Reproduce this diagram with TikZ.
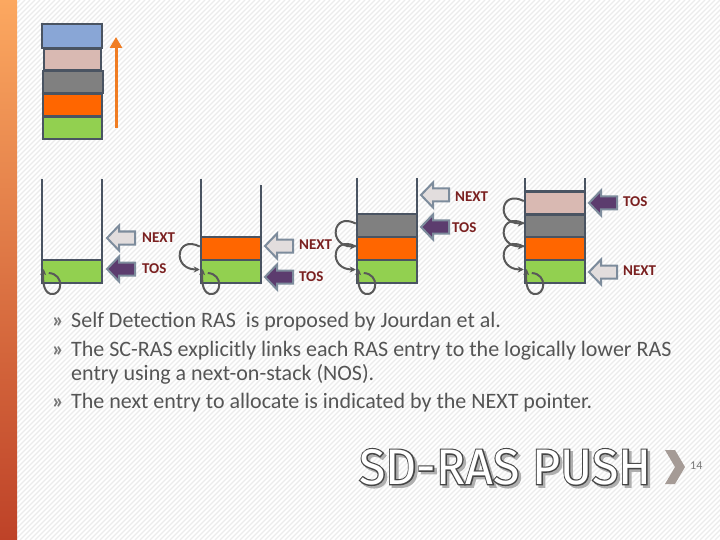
\documentclass[tikz,border=0pt]{standalone}
\usepackage{fontspec}
\setmainfont{Carlito}
\newfontfamily\titlefont{Fira Sans}
\newfontfamily\titlefontbold[FakeBold=5]{Fira Sans}
\usetikzlibrary{arrows.meta,calc}
\definecolor{barTop}{RGB}{252,168,96}
\definecolor{barMid}{RGB}{242,122,32}
\definecolor{barBot}{RGB}{190,66,40}
\definecolor{wallc}{RGB}{74,84,98}
\definecolor{cblue}{RGB}{137,166,214}
\definecolor{cpink}{RGB}{217,185,178}
\definecolor{cgray}{RGB}{128,128,128}
\definecolor{corange}{RGB}{255,102,0}
\definecolor{cgreen}{RGB}{146,208,80}
\definecolor{loopc}{RGB}{89,89,89}
\definecolor{nextfill}{RGB}{226,221,221}
\definecolor{arrowedge}{RGB}{125,140,156}
\definecolor{tosfill}{RGB}{92,60,110}
\definecolor{labelc}{RGB}{122,32,32}
\definecolor{textc}{RGB}{85,85,85}
\definecolor{bulletc}{RGB}{120,120,120}
\definecolor{titleout}{RGB}{70,70,70}
\definecolor{titleshadow}{RGB}{175,175,175}
\definecolor{chevc}{RGB}{165,155,150}
\definecolor{uparrow}{RGB}{240,125,35}
\definecolor{stripec}{RGB}{236,236,236}
\newcommand\ttltext{\resizebox{292pt}{35pt}{\titlefont SD-RAS PUSH}}
\newcommand\ttltextbold{\resizebox{292pt}{35pt}{\titlefontbold SD-RAS PUSH}}
\tikzset{
  box/.style={draw=wallc, line width=2.5pt, minimum width=60pt, minimum height=23pt, inner sep=0pt},
  wall/.style={draw=wallc, line width=2.5pt},
  nosloop/.style={draw=loopc, line width=2pt, -{Stealth[length=6pt,width=6pt]}},
  nextstyle/.style={draw=arrowedge, line width=2pt, fill=nextfill, line join=miter},
  tosstyle/.style={draw=arrowedge, line width=2pt, fill=tosfill, line join=miter},
  nextarrow/.pic={\path[nextstyle] (0,0) -- (12,-12.5) -- (12,-6.5) -- (28,-6.5) -- (28,6.5) -- (12,6.5) -- (12,12.5) -- cycle;},
  tosarrow/.pic={\path[tosstyle] (0,0) -- (12,-12.5) -- (12,-6.5) -- (28,-6.5) -- (28,6.5) -- (12,6.5) -- (12,12.5) -- cycle;},
  lbl/.style={text=labelc, font=\fontsize{15}{15}\selectfont\bfseries, anchor=west, inner sep=0pt},
  bodytext/.style={text=textc, font=\fontsize{22}{26}\selectfont, anchor=base west, inner sep=0pt},
  bullet/.style={text=bulletc, font=\fontsize{22}{26}\selectfont\bfseries, anchor=base west, inner sep=0pt},
  stripe/.style={draw=stripec, line width=1.3pt},
  ttl/.style={anchor=north west, inner sep=0pt},
}
\begin{document}
\begin{tikzpicture}[x=1pt, y=-1pt]
\useasboundingbox (0,0) rectangle (720,540);
\fill[white] (0,0) rectangle (720,540);
% background stripes
\begin{scope}
\clip (0,0) rectangle (720,540);
\foreach \i in {0,5,...,1260} \draw[stripe] (\i,0) -- (\i-540,540);
\end{scope}
% left bar
\shade[top color=barTop, middle color=barMid, bottom color=barBot] (0,0) rectangle (17,540);

% top stack
\node[box, fill=cblue, minimum width=60pt, minimum height=24pt] (tb) at (72,36) {};
\node[box, fill=cpink, minimum width=57pt, minimum height=21pt] (tp) at (72.5,59.5) {};
\node[box, fill=cgray, minimum height=22pt] (tg) at (73,82) {};
\node[box, fill=corange, minimum width=59pt, minimum height=22pt] (to) at (72.5,105) {};
\node[box, fill=cgreen, minimum width=59pt, minimum height=22pt] (tgr) at (72.5,128) {};
\coordinate (ua) at (116,128);
\coordinate (ub) at (116,37);
\draw[draw=uparrow, line width=3pt, -{Triangle[length=11pt,width=12pt]}] (ua) -- (ub);

% ---------- stack 1 ----------
\draw[wall] (42,179) -- (42,283) -- (102,283) -- (102,179);
\node[box, fill=cgreen] (a1) at (72,271.5) {};
\draw[nosloop] ($(a1.west)+(8,1.5)$) .. controls +(16,1) and +(12,2) .. ($(a1.west)+(10,22.5)$) .. controls +(-8,-2) and +(-1,10) .. ($(a1.west)+(3,-2.5)$);
\pic (p1n) at (107,238) {nextarrow};
\pic (p1t) at (107,269) {tosarrow};
\node[lbl] (l1n) at (142,238) {NEXT};
\node[lbl] (l1t) at (142,269) {TOS};

% ---------- stack 2 ----------
\draw[wall] (201,179) -- (201,283) -- (261,283) -- (261,185);
\node[box, fill=cgreen] (b1) at (231,271.5) {};
\node[box, fill=corange] (b2) at (231,248.5) {};
\draw[nosloop] ($(b2.west)+(0,-2)$) .. controls +(-24,-12) and +(-28,0) .. ($(b1.west)+(0,-2)$);
\draw[nosloop] ($(b1.west)+(8,1.5)$) .. controls +(16,1) and +(12,2) .. ($(b1.west)+(10,22.5)$) .. controls +(-8,-2) and +(-1,10) .. ($(b1.west)+(3,-2.5)$);
\pic (p2n) at (265,246) {nextarrow};
\pic (p2t) at (265,277) {tosarrow};
\node[lbl] (l2n) at (299,245) {NEXT};
\node[lbl] (l2t) at (299,277) {TOS};

% ---------- stack 3 ----------
\draw[wall] (357,178) -- (357,283) -- (417,283) -- (417,178);
\node[box, fill=cgreen] (c1) at (387,271.5) {};
\node[box, fill=corange] (c2) at (387,248.5) {};
\node[box, fill=cgray] (c3) at (387,225.5) {};
\draw[nosloop] ($(c3.west)+(0,-2)$) .. controls +(-24,-12) and +(-28,0) .. ($(c2.west)+(0,-2)$);
\draw[nosloop] ($(c2.west)+(0,-2)$) .. controls +(-24,-12) and +(-28,0) .. ($(c1.west)+(0,-2)$);
\draw[nosloop] ($(c1.west)+(8,1.5)$) .. controls +(16,1) and +(12,2) .. ($(c1.west)+(10,22.5)$) .. controls +(-8,-2) and +(-1,10) .. ($(c1.west)+(3,-2.5)$);
\pic (p3n) at (421,195) {nextarrow};
\pic (p3t) at (421,227) {tosarrow};
\node[lbl] (l3n) at (455,197) {NEXT};
\node[lbl] (l3t) at (452,228) {TOS};

% ---------- stack 4 ----------
\draw[wall] (525,178) -- (525,283) -- (585,283) -- (585,178);
\node[box, fill=cgreen] (d1) at (555,271.5) {};
\node[box, fill=corange] (d2) at (555,248.5) {};
\node[box, fill=cgray] (d3) at (555,225.5) {};
\node[box, fill=cpink] (d4) at (555,203) {};
\draw[nosloop] ($(d4.west)+(0,-2)$) .. controls +(-24,-12) and +(-28,0) .. ($(d3.west)+(0,-2)$);
\draw[nosloop] ($(d3.west)+(0,-2)$) .. controls +(-24,-12) and +(-28,0) .. ($(d2.west)+(0,-2)$);
\draw[nosloop] ($(d2.west)+(0,-2)$) .. controls +(-24,-12) and +(-28,0) .. ($(d1.west)+(0,-2)$);
\draw[nosloop] ($(d1.west)+(8,1.5)$) .. controls +(16,1) and +(12,2) .. ($(d1.west)+(10,22.5)$) .. controls +(-8,-2) and +(-1,10) .. ($(d1.west)+(3,-2.5)$);
\pic (p4t) at (589,203) {tosarrow};
\pic (p4n) at (589,272) {nextarrow};
\node[lbl] (l4t) at (623,202) {TOS};
\node[lbl] (l4n) at (623,271) {NEXT};

% ---------- bullet text ----------
\node[bullet] (m1) at (52,327) {»};
\node[bodytext] (t1) at (71,327) {Self Detection RAS\ \ is proposed by Jourdan et al.};
\node[bullet] (m2) at (52,356) {»};
\node[bodytext] (t2) at (71,356) {The SC-RAS explicitly links each RAS entry to the logically lower RAS};
\node[bodytext] (t3) at (71,380) {entry using a next-on-stack (NOS).};
\node[bullet] (m3) at (52,408) {»};
\node[bodytext] (t4) at (71,408) {The next entry to allocate is indicated by the NEXT pointer.};

% ---------- title ----------
\node[ttl, text=titleshadow] (tsh) at (361.5,451.5) {\ttltextbold};
\node[ttl, text=titleout] (tol) at (359,449) {\ttltextbold};
\node[ttl, text=white] (title) at (359,449) {\ttltext};
\fill[chevc] (665,450) -- (675,450) -- (685,467) -- (675,484) -- (665,484) -- (675,467) -- cycle;
\node[anchor=west, inner sep=0pt, text=bulletc, font=\fontsize{12}{12}\selectfont] (pg) at (690,466) {14};
\end{tikzpicture}
\end{document}
